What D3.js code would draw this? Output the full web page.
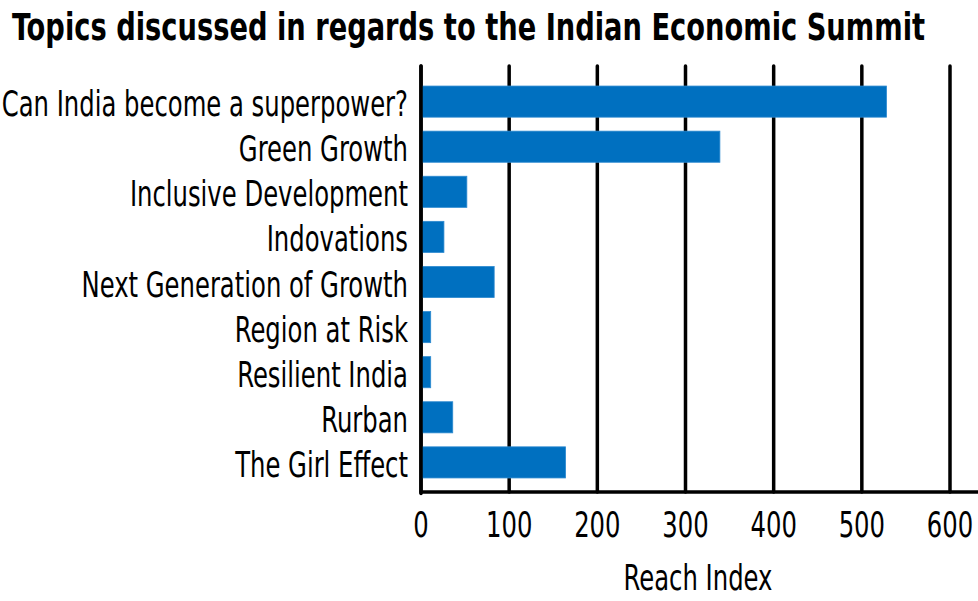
<!DOCTYPE html>
<html><head><meta charset="utf-8">
<script src="https://cdn.jsdelivr.net/npm/d3@7"></script>
<style>body{margin:0;background:#fff}svg{display:block}</style>
</head><body>
<svg id="c" width="978" height="601"></svg>
<script>
const categories = ["Can India become a superpower?","Green Growth","Inclusive Development","Indovations","Next Generation of Growth","Region at Risk","Resilient India","Rurban","The Girl Effect"];
const values = [528, 339, 52, 26, 83, 11, 11, 36, 164];
const xTicks = [0,100,200,300,400,500,600];
const title = "Topics discussed in regards to the Indian Economic Summit";
const xTitle = "Reach Index";

const FONT = "'Liberation Sans Narrow','DejaVu Sans Condensed',sans-serif";
const svg = d3.select("#c");
const x = d3.scaleLinear().domain([0,600]).range([421,950]);
const y = d3.scaleBand().domain(categories).range([69,495]).paddingInner(0.31).paddingOuter(0.378);

// gridlines
svg.append("g").selectAll("line").data(xTicks).join("line")
  .attr("x1",d=>x(d)).attr("x2",d=>x(d)).attr("y1",66).attr("y2",492)
  .attr("stroke","#000").attr("stroke-width",3.5).attr("stroke-linecap","round");

// bars
svg.append("g").selectAll("rect").data(values).join("rect")
  .attr("x",x(0)).attr("y",(d,i)=>y(categories[i]))
  .attr("width",d=>x(d)-x(0)).attr("height",y.bandwidth())
  .attr("fill","#0070c0").attr("stroke","#2d8ad0").attr("stroke-width",0.8);

// axes lines
svg.append("line").attr("x1",x(0)).attr("x2",x(0)).attr("y1",66).attr("y2",493.5).attr("stroke","#000").attr("stroke-width",3.5).attr("stroke-linecap","round");
svg.append("line").attr("x1",x(0)-1.5).attr("x2",978).attr("y1",492).attr("y2",492).attr("stroke","#000").attr("stroke-width",3.5);

const sx = 0.772;
// x tick labels
svg.append("g").selectAll("text").data(xTicks).join("text")
  .attr("transform",d=>`translate(${x(d)},537) scale(${sx},1)`)
  .attr("text-anchor","middle").attr("font-family",FONT).attr("font-size",35).text(d=>d);

// y labels
svg.append("g").selectAll("text").data(categories).join("text")
  .attr("transform",d=>`translate(408,${y(d)+y.bandwidth()/2+14.5}) scale(${sx},1)`)
  .attr("text-anchor","end").attr("font-family",FONT).attr("font-size",35).text(d=>d);

// x title
svg.append("text").attr("transform",`translate(698,590) scale(${sx},1)`)
  .attr("text-anchor","middle").attr("font-family",FONT).attr("font-size",35).text(xTitle);

// title
svg.append("text").attr("transform",`translate(12,40) scale(0.82,1)`)
  .attr("font-family",FONT).attr("font-weight","bold").attr("font-size",37).text(title);
</script>
</body></html>
